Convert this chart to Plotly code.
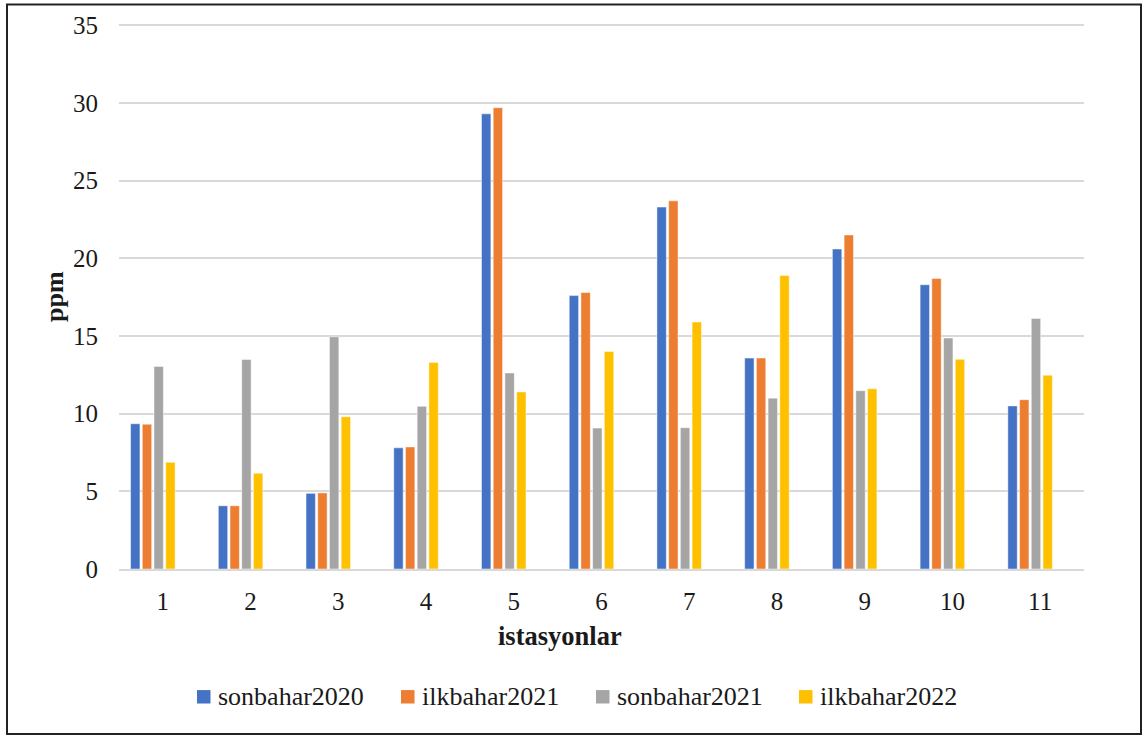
import plotly.graph_objects as go

# Station numbers on the x axis
istasyonlar = ["1", "2", "3", "4", "5", "6", "7", "8", "9", "10", "11"]

# Concentrations (ppm) per sampling season
sonbahar2020 = [9.35, 4.07, 4.87, 7.8, 29.3, 17.6, 23.3, 13.58, 20.6, 18.3, 10.5]
ilkbahar2021 = [9.32, 4.07, 4.9, 7.86, 29.7, 17.8, 23.7, 13.58, 21.5, 18.7, 10.9]
sonbahar2021 = [13.04, 13.49, 14.95, 10.47, 12.62, 9.07, 9.1, 11.0, 11.48, 14.87, 16.13]
ilkbahar2022 = [6.87, 6.17, 9.8, 13.3, 11.4, 14.0, 15.9, 18.89, 11.6, 13.5, 12.48]

series = [
    ("sonbahar2020", sonbahar2020, "#4472C4"),
    ("ilkbahar2021", ilkbahar2021, "#ED7D31"),
    ("sonbahar2021", sonbahar2021, "#A5A5A5"),
    ("ilkbahar2022", ilkbahar2022, "#FFC000"),
]

W, H = 1147, 737
L, R, T, B = 119, 63, 20, 168
PW, PH = W - L - R, H - T - B

# a little headroom above 35 so its gridline is kept
Y_MAX = 35.15


def px_x(x):
    return (x - L) / PW


def px_y(y):
    return (H - B - y) / PH


FONT = "Liberation Serif"
TXT = "#1a1a1a"

# bar geometry in category units (one category = 1.0)
BAR_W = 0.107
BAR_PITCH = 0.1335
FIRST_OFFSET = -0.368

fig = go.Figure()
for i, (name, vals, color) in enumerate(series):
    fig.add_trace(go.Bar(
        x=istasyonlar, y=vals, name=name,
        width=BAR_W, offset=FIRST_OFFSET + i * BAR_PITCH,
        marker=dict(color=color, line=dict(color="rgba(255,255,255,0.6)", width=0.8)),
        showlegend=False,
    ))

# legend row: colour square followed by the season name
legend_x = [197, 401, 596, 799]
legend_y = 697.5
SQ = 13.5
shapes = []
annotations = []
for (name, _, color), lx in zip(series, legend_x):
    shapes.append(dict(
        type="rect", xref="paper", yref="paper",
        x0=px_x(lx), x1=px_x(lx + SQ),
        y0=px_y(legend_y + SQ / 2), y1=px_y(legend_y - SQ / 2),
        line=dict(width=0), fillcolor=color,
    ))
    annotations.append(dict(
        text=name, xref="paper", yref="paper",
        x=px_x(lx + SQ + 5.5), y=px_y(legend_y), showarrow=False,
        xanchor="left", yanchor="middle",
        font=dict(family=FONT, size=26, color=TXT),
    ))

annotations += [
    dict(text="<b>ppm</b>", xref="paper", yref="paper",
         x=px_x(55), y=px_y(295.5), textangle=-90, showarrow=False,
         xanchor="center", yanchor="middle",
         font=dict(family=FONT, size=26, color=TXT)),
    dict(text="<b>istasyonlar</b>", xref="paper", yref="paper",
         x=px_x(560), y=px_y(636), showarrow=False,
         xanchor="center", yanchor="middle",
         font=dict(family=FONT, size=26.5, color=TXT)),
]

# outer frame around the whole chart
shapes.append(dict(
    type="rect", xref="paper", yref="paper",
    x0=px_x(7), x1=px_x(1141), y0=px_y(735), y1=px_y(1.5),
    line=dict(color="#222222", width=2), fillcolor="rgba(0,0,0,0)",
    layer="above",
))

fig.update_layout(
    width=W, height=H,
    margin=dict(l=L, r=R, t=T, b=B),
    paper_bgcolor="white", plot_bgcolor="white",
    barmode="overlay",
    font=dict(family=FONT, size=25, color=TXT),
    showlegend=False,
    xaxis=dict(
        type="category", showgrid=False, showline=True,
        linecolor="#d9d9d9", linewidth=1.5, ticks="",
        tickfont=dict(family=FONT, size=25, color=TXT),
        ticklabelstandoff=9,
    ),
    yaxis=dict(
        range=[0, Y_MAX], tickvals=[0, 5, 10, 15, 20, 25, 30, 35],
        showgrid=True, gridcolor="#d9d9d9",
        gridwidth=1.5, zeroline=False, showline=False, ticks="",
        tickfont=dict(family=FONT, size=25, color=TXT),
        ticklabelstandoff=20,
    ),
    annotations=annotations,
    shapes=shapes,
)

fig.write_html("out.html")
